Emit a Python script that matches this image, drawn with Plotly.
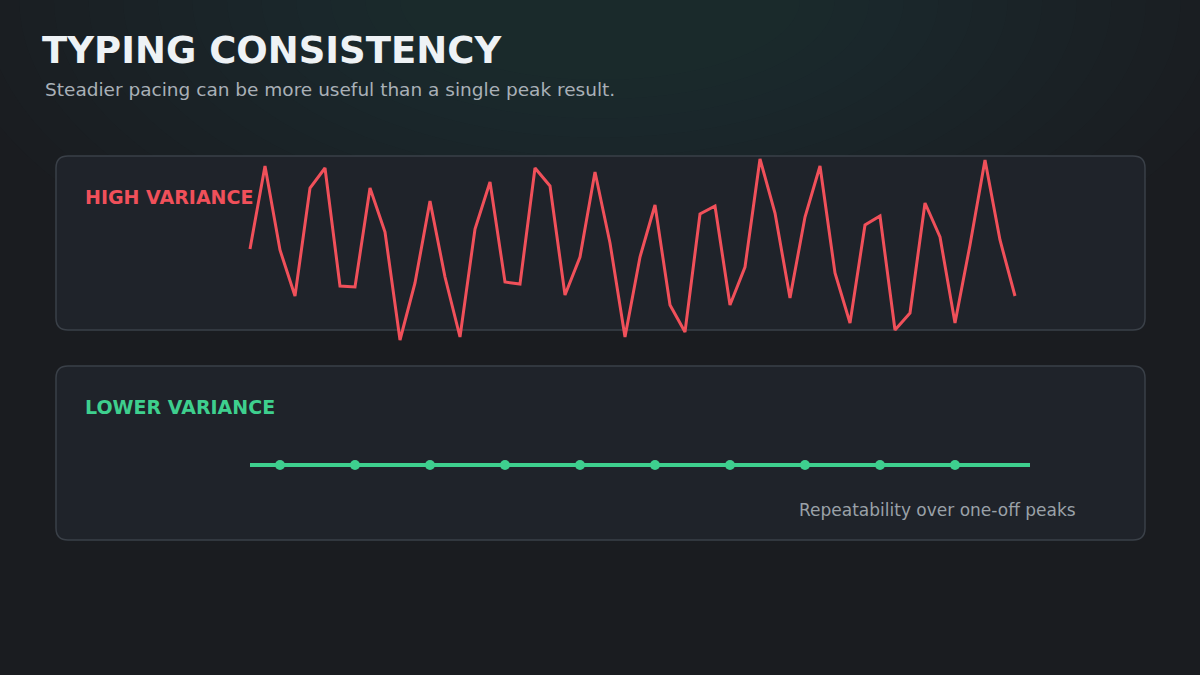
import plotly.graph_objects as go

# High variance session values (higher = faster)
high_sessions = list(range(52))
high_values = [151, 234, 150, 104, 212, 232, 114, 113, 212, 168, 60, 117, 199, 123, 63, 171,
               218, 118, 116, 232, 214, 105, 143, 228, 157, 63, 143, 195, 95, 68, 186, 194,
               95, 133, 241, 187, 102, 183, 234, 127, 77, 175, 184, 70, 87, 197, 163, 77,
               155, 240, 160, 104]
# Lower variance session values
low_sessions = list(range(10))
low_values = [100] * 10

RED = "#f0505a"
GREEN = "#3ecf8e"

fig = go.Figure()

fig.add_trace(go.Scatter(x=high_sessions, y=high_values, mode="lines",
                         line=dict(color=RED, width=3), xaxis="x", yaxis="y",
                         hoverinfo="skip"))
fig.add_trace(go.Scatter(x=low_sessions, y=low_values, mode="markers",
                         marker=dict(color=GREEN, size=10), xaxis="x2", yaxis="y2",
                         hoverinfo="skip"))

def rr(x0, y0, x1, y1, r=12):
    def P(x, y):
        return f"{x/1200:.5f},{1-y/675:.5f}"
    return (f"M {P(x0+r,y0)} L {P(x1-r,y0)} Q {P(x1,y0)} {P(x1,y0+r)} L {P(x1,y1-r)} "
            f"Q {P(x1,y1)} {P(x1-r,y1)} L {P(x0+r,y1)} Q {P(x0,y1)} {P(x0,y1-r)} "
            f"L {P(x0,y0+r)} Q {P(x0,y0)} {P(x0+r,y0)} Z")

shapes = []
# soft teal glow near top centre
n = 14
for i in range(n):
    t = i / (n - 1)
    rx = 650 - 450 * t
    ry = 330 - 250 * t
    cx, cy = 600, 0
    shapes.append(dict(type="circle", xref="paper", yref="paper", layer="below",
                       x0=(cx-rx)/1200, x1=(cx+rx)/1200, y0=1-(cy+ry)/675, y1=1-(cy-ry)/675,
                       fillcolor="rgba(30,95,105,0.022)", line=dict(width=0)))
for (y0, y1) in [(156, 330), (366, 540)]:
    shapes.append(dict(type="path", path=rr(56, y0, 1145, y1), xref="paper", yref="paper",
                       layer="below", fillcolor="#1f232a", line=dict(color="#3a4048", width=1.5)))
shapes.append(dict(type="line", xref="paper", yref="paper", layer="below",
                   x0=250/1200, x1=1030/1200, y0=1-465/675, y1=1-465/675,
                   line=dict(color=GREEN, width=4)))

def ann(text, x, y, size, color, bold=False, xanchor="left"):
    return dict(text=f"<b>{text}</b>" if bold else text, x=x/1200, y=1-y/675,
                xref="paper", yref="paper", xanchor=xanchor, yanchor="middle",
                showarrow=False, font=dict(size=size, color=color, family="DejaVu Sans"))

annotations = [
    ann("TYPING CONSISTENCY", 40, 50, 37, "#eef2f5", True),
    ann("Steadier pacing can be more useful than a single peak result.", 43, 90, 18.5, "#a9b0b7"),
    ann("HIGH VARIANCE", 83, 197, 19, RED, True),
    ann("LOWER VARIANCE", 83, 407, 19, GREEN, True),
    ann("Repeatability over one-off peaks", 1078, 510, 17, "#9aa1a8", xanchor="right"),
]

ax = dict(visible=False, showgrid=False, zeroline=False, fixedrange=True)
fig.update_layout(
    width=1200, height=675, margin=dict(l=0, r=0, t=0, b=0),
    paper_bgcolor="#1a1c20", plot_bgcolor="rgba(0,0,0,0)", showlegend=False,
    xaxis=dict(ax, domain=[0, 1], range=[-250/15, 950/15]),
    yaxis=dict(ax, domain=[0, 1], range=[-275, 400]),
    xaxis2=dict(ax, domain=[0, 1], range=[-280/75, 920/75], anchor="y2"),
    yaxis2=dict(ax, domain=[0, 1], range=[100-(675-465), 100+465], anchor="x2"),
    shapes=shapes, annotations=annotations,
)
fig.write_html("out.html", config={"displayModeBar": False},
               post_script="document.body.style.margin='0';document.body.style.background='#1a1c20';")
